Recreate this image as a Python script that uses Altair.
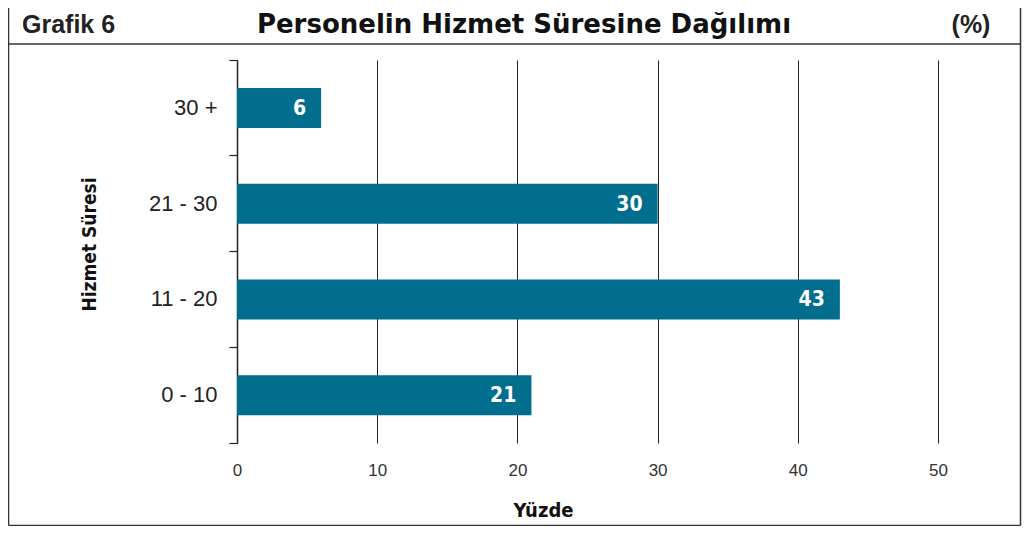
import altair as alt
import pandas as pd

categories = ["30 +", "21 - 30", "11 - 20", "0 - 10"]
values = [6, 30, 43, 21]
x_ticks = [0, 10, 20, 30, 40, 50]
header_left = ["Grafik 6"]
header_title = ["Personelin Hizmet Süresine Dağılımı"]
header_right = ["(%)"]
x_title = "Yüzde"
y_title = "Hizmet Süresi"

BAR = "#006e8c"
INK = "#222222"
COND = "DejaVu Sans Condensed, Roboto Condensed, Roboto, Liberation Sans, sans-serif"
W, H = 701, 383

df = pd.DataFrame({"cat": categories, "val": values})

y_enc = alt.Y(
    "cat:N",
    sort=categories,
    scale=alt.Scale(paddingInner=0, paddingOuter=0),
    axis=alt.Axis(
        title=y_title,
        titleFont=COND,
        titleFontWeight="bold",
        titleFontSize=19,
        titleColor="#111111",
        titlePadding=0,
        titleX=-138,
        titleY=184,
        titleAngle=270,
        labelFont="Liberation Sans",
        labelFontSize=22,
        labelColor="#222222",
        labelPadding=12,
        tickSize=8,
        tickColor=INK,
        tickWidth=1.2,
        bandPosition=1,
        tickExtra=True,
        domainColor=INK,
        domainWidth=1.5,
        grid=False,
    ),
)

x_enc = alt.X(
    "val:Q",
    scale=alt.Scale(domain=[0, 50], nice=False, zero=True),
    axis=alt.Axis(
        values=x_ticks,
        title=x_title,
        titleFont=COND,
        titleFontWeight="bold",
        titleFontSize=20,
        titleColor="#111111",
        titleX=306,
        titleY=57,
        labelFont="Liberation Sans",
        labelFontSize=17,
        labelColor="#333333",
        labelPadding=19,
        labelFlush=False,
        ticks=False,
        domain=False,
        grid=True,
        gridColor=INK,
        gridWidth=1,
        gridOpacity=1,
    ),
)

bars = alt.Chart(df).mark_bar(color=BAR, size=40).encode(x=x_enc, y=y_enc)

labels = alt.Chart(df).mark_text(
    align="right", baseline="middle", dx=-15, dy=1,
    font=COND, fontWeight="bold", fontSize=21, color="white",
).encode(x="val:Q", y=alt.Y("cat:N", sort=categories), text="val:Q")

one = pd.DataFrame({"k": [0]})

def frame_rule(x1, y1, x2, y2, w=1.5):
    return alt.Chart(one).mark_rule(color="#333333", strokeWidth=w, clip=False).encode(
        x=alt.value(x1), y=alt.value(y1), x2=alt.value(x2), y2=alt.value(y2)
    )

BOT = 465.5
RIGHT = 783.5
frame = [
    frame_rule(-228.5, -60, -228.5, BOT),
    frame_rule(RIGHT, -60, RIGHT, BOT),
    frame_rule(-228.5, BOT, RIGHT, BOT),
    frame_rule(-228.5, -16, RIGHT, -16),
]

hdf_l = pd.DataFrame({"t": header_left})
hdf_t = pd.DataFrame({"t": header_title})
hdf_r = pd.DataFrame({"t": header_right})

h_left = alt.Chart(hdf_l).mark_text(
    align="left", baseline="alphabetic", font="Liberation Sans", fontWeight="bold",
    fontSize=25, color="#222222", clip=False,
).encode(x=alt.value(-215), y=alt.value(-27), text="t:N")

h_title = alt.Chart(hdf_t).mark_text(
    align="center", baseline="alphabetic", font="DejaVu Sans", fontWeight="bold",
    fontSize=26, color="#111111", clip=False,
).encode(x=alt.value(287), y=alt.value(-27), text="t:N")

h_right = alt.Chart(hdf_r).mark_text(
    align="center", baseline="alphabetic", font="Liberation Sans", fontWeight="bold",
    fontSize=25, color="#222222", clip=False,
).encode(x=alt.value(734), y=alt.value(-27), text="t:N")

chart = alt.layer(bars, labels, h_left, h_title, h_right, *frame).properties(
    width=W, height=H,
    padding={"left": 229, "top": 52, "right": 84, "bottom": 83},
    autosize=alt.AutoSizeParams(type="none"),
    background="white",
).configure_view(stroke=None)

chart.save("out.html", embed_options={"renderer": "svg", "actions": False})
